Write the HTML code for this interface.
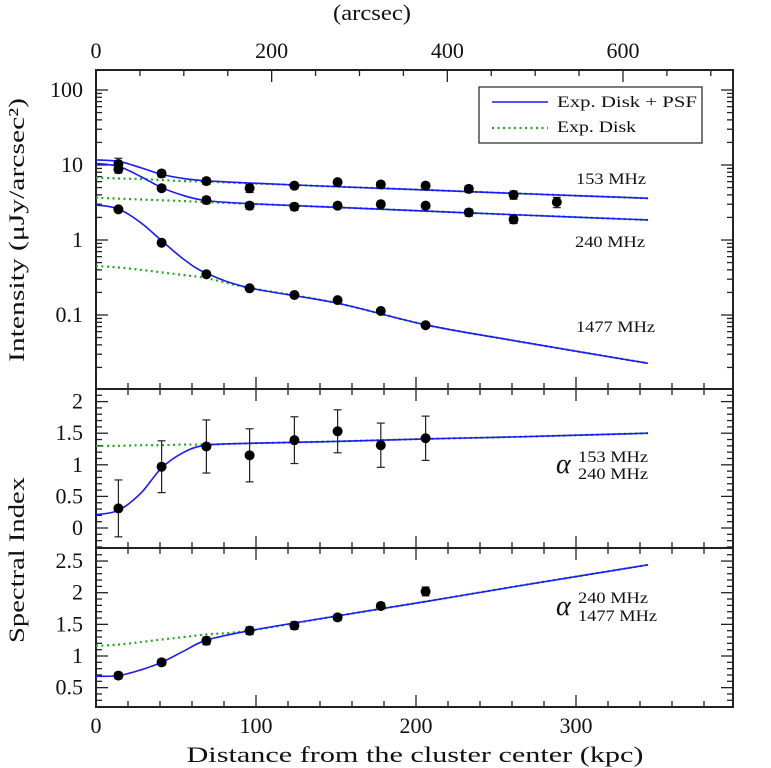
<!DOCTYPE html>
<html><head><meta charset="utf-8"><style>
html,body{margin:0;padding:0;background:#fff;}
svg{display:block;font-family:"Liberation Serif",serif;}
</style></head><body>
<svg id="chart" width="771" height="768" viewBox="0 0 771 768" xmlns="http://www.w3.org/2000/svg"></svg>
<script>
// ---- data ----
const modelX = [0, 14, 28, 41, 55, 69, 96, 150, 206, 260, 345];
const m153 = [11.7, 11.2, 9.2, 7.5, 6.6, 6.15, 5.75, 5.15, 4.65, 4.2, 3.6];
const d153 = [6.8, 6.6, 6.5, 6.3, 6.1, 6.0, 5.7, 5.15, 4.65, 4.2, 3.6];
const m240 = [10.5, 9.6, 7.0, 5.0, 3.9, 3.35, 3.05, 2.73, 2.43, 2.18, 1.85];
const d240 = [3.66, 3.56, 3.47, 3.39, 3.3, 3.2, 3.04, 2.73, 2.43, 2.18, 1.85];
const m1477 = [2.93, 2.6, 1.7, 0.98, 0.55, 0.36, 0.23, 0.145, 0.074, 0.046, 0.0227];
const d1477 = [0.45, 0.43, 0.4, 0.37, 0.34, 0.31, 0.23, 0.145, 0.074, 0.046, 0.0227];
const mA1 = [0.21, 0.28, 0.55, 0.95, 1.2, 1.31, 1.34, 1.37, 1.41, 1.44, 1.5];
const dA1 = [1.3, 1.3, 1.31, 1.31, 1.32, 1.32, 1.34, 1.37, 1.41, 1.44, 1.5];
const mA2 = [0.68, 0.69, 0.78, 0.9, 1.08, 1.25, 1.40, 1.63, 1.86, 2.09, 2.44];
const dA2 = [1.16, 1.18, 1.22, 1.26, 1.3, 1.34, 1.40, 1.63, 1.86, 2.09, 2.44];

const ptX = [14, 41, 69, 96, 124, 151, 178, 206, 233, 261, 288];
const p153 = [10.3, 7.7, 6.1, 4.9, 5.3, 5.9, 5.5, 5.3, 4.8, 4.0, 3.2];
const e153 = [2.0, 0.8, 0.6, 0.6, 0.5, 0.5, 0.5, 0.5, 0.5, 0.5, 0.5];
const p240 = [8.8, 4.9, 3.4, 2.87, 2.78, 2.87, 3.0, 2.87, 2.33, 1.88];
const e240 = [1.0, 0.4, 0.35, 0.3, 0.3, 0.25, 0.25, 0.25, 0.25, 0.22];
const p1477 = [2.56, 0.92, 0.35, 0.227, 0.185, 0.158, 0.113, 0.073];
const e1477 = [0.1, 0.05, 0.02, 0.01, 0.008, 0.008, 0.006, 0.005];
const pA1 = [0.31, 0.97, 1.29, 1.15, 1.39, 1.53, 1.31, 1.42];
const eA1 = [0.45, 0.41, 0.42, 0.42, 0.37, 0.34, 0.35, 0.35];
const pA2 = [0.69, 0.9, 1.24, 1.40, 1.48, 1.61, 1.79, 2.02];
const eA2 = [0.05, 0.05, 0.06, 0.06, 0.06, 0.05, 0.05, 0.07];

const xTicks = [0, 100, 200, 300];
const arcTicks = [0, 200, 400, 600];
const logTicks = [100, 10, 1, 0.1];
const logTickLabels = ["100", "10", "1", "0.1"];
const a1Ticks = [0, 0.5, 1, 1.5, 2];
const a1Labels = ["0", "0.5", "1", "1.5", "2"];
const a2Ticks = [0.5, 1, 1.5, 2, 2.5];
const a2Labels = ["0.5", "1", "1.5", "2", "2.5"];

// ---- geometry ----
const L = 96, R = 733;
const P1 = [70, 389], P2 = [389, 548], P3 = [548, 707];
const X = k => L + k * 1.6;
const XA = a => L + a * 0.8783;
const Y1 = v => 240 - Math.log10(v) * 75;
const Y2 = v => 528 - v * 63.2;
const Y3 = v => 719.3 - v * 63.3;

const svg = document.getElementById('chart');
const NS = 'http://www.w3.org/2000/svg';
function mk(tag, attrs, parent) {
  const e = document.createElementNS(NS, tag);
  for (const k in attrs) e.setAttribute(k, attrs[k]);
  (parent || svg).appendChild(e);
  return e;
}
function txt(s, x, y, size, anchor, name, parent, len) {
  const t = mk('text', {x: x, y: y, 'font-size': size, 'text-anchor': anchor || 'start', fill: '#111'}, parent);
  t.textContent = s;
  if (len) { t.setAttribute('textLength', len); t.setAttribute('lengthAdjust', 'spacingAndGlyphs'); }
  
  
  return t;
}
function smooth(pts) {
  let d = 'M' + pts[0][0] + ',' + pts[0][1];
  for (let i = 0; i < pts.length - 1; i++) {
    const p0 = pts[i - 1] || pts[i], p1 = pts[i], p2 = pts[i + 1], p3 = pts[i + 2] || p2;
    const c1 = [p1[0] + (p2[0] - p0[0]) / 6, p1[1] + (p2[1] - p0[1]) / 6];
    const c2 = [p2[0] - (p3[0] - p1[0]) / 6, p2[1] - (p3[1] - p1[1]) / 6];
    d += ' C' + c1.join(',') + ' ' + c2.join(',') + ' ' + p2.join(',');
  }
  return d;
}
function curve(vals, Y, model, name) {
  const pts = modelX.map((x, i) => [X(x), Y(vals[i])]);
  const p = mk('path', model ?
    {d: smooth(pts), fill: 'none', stroke: '#1a1aff', 'stroke-width': 1.6} :
    {d: smooth(pts), fill: 'none', stroke: '#1faa1f', 'stroke-width': 2.2, 'stroke-dasharray': '2,3.5'});
  
  
}
function points(vals, errs, Y, name, isLog) {
  const g = mk('g', {});
  
  
  vals.forEach((v, i) => {
    const x = X(ptX[i]);
    const lo = isLog ? Math.max(v - errs[i], 1e-6) : v - errs[i];
    const y1 = Y(v + errs[i]), y2 = Y(lo);
    mk('line', {x1: x, x2: x, y1: y1, y2: y2, stroke: '#222', 'stroke-width': 1.2}, g);
    mk('line', {x1: x - 4, x2: x + 4, y1: y1, y2: y1, stroke: '#222', 'stroke-width': 1.2}, g);
    mk('line', {x1: x - 4, x2: x + 4, y1: y2, y2: y2, stroke: '#222', 'stroke-width': 1.2}, g);
    const c = mk('circle', {cx: x, cy: Y(v), r: 5, fill: '#000'}, g);
    
    
  });
}
function frame(P, name) {
  const r = mk('rect', {x: L, y: P[0], width: R - L, height: P[1] - P[0], fill: 'none', stroke: '#222', 'stroke-width': 2});
  
  
  for (let k = 20; k < 398; k += 20) {
    const len = k % 100 === 0 ? 12 : 6;
    mk('line', {x1: X(k), x2: X(k), y1: P[1], y2: P[1] - len, stroke: '#222', 'stroke-width': 1.3});
    if (P !== P1) mk('line', {x1: X(k), x2: X(k), y1: P[0], y2: P[0] + len, stroke: '#222', 'stroke-width': 1.3});
  }
}
function linTicks(P, Y, lo, hi) {
  for (let v = lo; v <= hi + 1e-9; v += 0.1) {
    const y = Y(v);
    if (y <= P[0] + 1 || y >= P[1] - 1) continue;
    const major = Math.abs(v * 2 - Math.round(v * 2)) < 1e-6;
    const len = major ? 12 : 6;
    mk('line', {x1: L, x2: L + len, y1: y, y2: y, stroke: '#222', 'stroke-width': 1.3});
    mk('line', {x1: R, x2: R - len, y1: y, y2: y, stroke: '#222', 'stroke-width': 1.3});
  }
}

frame(P1, 'intensity-panel');
frame(P2, 'alpha-153-240-panel');
frame(P3, 'alpha-240-1477-panel');

for (let a = 50; a < 725; a += 50) {
  const len = a % 200 === 0 ? 12 : 6;
  mk('line', {x1: XA(a), x2: XA(a), y1: P1[0], y2: P1[0] + len, stroke: '#222', 'stroke-width': 1.3});
}
for (let d = -2; d <= 2; d++) {
  for (let m = 1; m <= 9; m++) {
    const v = m * Math.pow(10, d);
    const y = Y1(v);
    if (y <= P1[0] + 1 || y >= P1[1] - 1) continue;
    const len = m === 1 ? 12 : 6;
    mk('line', {x1: L, x2: L + len, y1: y, y2: y, stroke: '#222', 'stroke-width': 1.3});
    mk('line', {x1: R, x2: R - len, y1: y, y2: y, stroke: '#222', 'stroke-width': 1.3});
  }
}
linTicks(P2, Y2, -0.3, 2.2);
linTicks(P3, Y3, 0.2, 2.7);

xTicks.forEach(k => txt(String(k), X(k), 733, 22, 'middle', 'x-tick-label'));
arcTicks.forEach(a => txt(String(a), XA(a), 58, 22, 'middle', 'arcsec-tick-label'));
logTicks.forEach((v, i) => txt(logTickLabels[i], 83, Y1(v) + 7, 22, 'end', 'intensity-tick-label'));
a1Ticks.forEach((v, i) => txt(a1Labels[i], 83, Y2(v) + 7, 22, 'end', 'alpha1-tick-label'));
a2Ticks.forEach((v, i) => txt(a2Labels[i], 83, Y3(v) + 7, 22, 'end', 'alpha2-tick-label'));

curve(d153, Y1, false, 'disk-153');
curve(d240, Y1, false, 'disk-240');
curve(d1477, Y1, false, 'disk-1477');
curve(m153, Y1, true, 'model-153');
curve(m240, Y1, true, 'model-240');
curve(m1477, Y1, true, 'model-1477');
curve(dA1, Y2, false, 'disk-alpha1');
curve(mA1, Y2, true, 'model-alpha1');
curve(dA2, Y3, false, 'disk-alpha2');
curve(mA2, Y3, true, 'model-alpha2');

points(p153, e153, Y1, 'data-153', true);
points(p240, e240, Y1, 'data-240', true);
points(p1477, e1477, Y1, 'data-1477', true);
points(pA1, eA1, Y2, 'data-alpha1', false);
points(pA2, eA2, Y3, 'data-alpha2', false);

txt('153 MHz', 576, 184, 16, 'start', 'label-153', null, 70);
txt('240 MHz', 575, 247, 16, 'start', 'label-240', null, 70);
txt('1477 MHz', 576, 332, 16, 'start', 'label-1477', null, 79);

const a1 = txt('α', 556, 473, 28, 'start', 'alpha1-symbol');
a1.setAttribute('font-style', 'italic');
txt('153 MHz', 578, 462, 16, 'start', 'alpha1-sup', null, 70);
txt('240 MHz', 578, 479, 16, 'start', 'alpha1-sub', null, 70);
const a2 = txt('α', 556, 615, 28, 'start', 'alpha2-symbol');
a2.setAttribute('font-style', 'italic');
txt('240 MHz', 578, 603, 16, 'start', 'alpha2-sup', null, 70);
txt('1477 MHz', 578, 621, 16, 'start', 'alpha2-sub', null, 79);

txt('(arcsec)', 372, 20, 22, 'middle', 'top-axis-title', null, 78);
txt('Distance from the cluster center (kpc)', 415, 762, 22, 'middle', 'x-axis-title', null, 457);
const yt = txt('Intensity (μJy/arcsec²)', 0, 0, 22, 'middle', 'intensity-axis-title', null, 264);
yt.setAttribute('transform', 'translate(24,230) rotate(-90)');
const st = txt('Spectral Index', 0, 0, 22, 'middle', 'spectral-index-axis-title', null, 166);
st.setAttribute('transform', 'translate(24,560) rotate(-90)');

const lg = mk('g', {});


mk('rect', {x: 479, y: 87, width: 223, height: 56, fill: '#fff', stroke: '#333', 'stroke-width': 1.3}, lg);
mk('line', {x1: 492, x2: 548, y1: 102, y2: 102, stroke: '#1a1aff', 'stroke-width': 1.6}, lg);
mk('line', {x1: 492, x2: 548, y1: 128, y2: 128, stroke: '#1faa1f', 'stroke-width': 2.2, 'stroke-dasharray': '2,3.5'}, lg);
txt('Exp. Disk + PSF', 557, 107, 16, 'start', 'legend-model', lg, 140);
txt('Exp. Disk', 557, 132, 16, 'start', 'legend-disk', lg, 79);
</script>
</body></html>
